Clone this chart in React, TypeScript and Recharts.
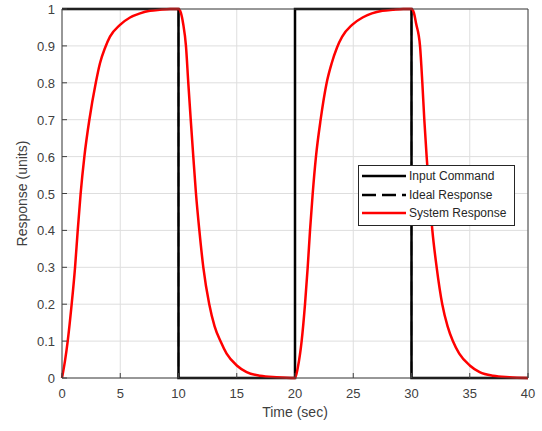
import { CartesianGrid, Label, Legend, Line, LineChart, XAxis, YAxis } from "recharts";

const inputTime = [0, 10, 10, 20, 20, 30, 30, 40];
const inputValue = [1, 1, 0, 0, 1, 1, 0, 0];

const systemTime = [
  0, 0.25, 0.49, 0.83, 1.12, 1.35, 1.6, 1.92, 2.35, 2.9, 3.26, 3.7, 4.12, 4.98, 5.84, 6.7, 7.55, 8.4, 9.3,
  10, 10.2, 10.4, 10.64, 10.84, 11.05, 11.27, 11.5, 11.79, 12.13, 12.64, 13.1, 13.6, 14.13, 15, 15.85, 17, 18.4,
  20, 20.25, 20.57, 20.86, 21.09, 21.29, 21.52, 21.8, 22.2, 22.72, 23.15, 23.6, 24.05, 24.9, 25.8, 26.6, 27.5, 28.4, 29.3,
  30, 30.2, 30.4, 30.73, 30.93, 31.1, 31.3, 31.53, 31.79, 32.16, 32.64, 33.1, 33.55, 34.1, 35, 35.85, 37, 38.4,
  40,
];
const systemValue = [
  0, 0.045, 0.1, 0.2, 0.3, 0.4, 0.5, 0.6, 0.7, 0.8, 0.853, 0.895, 0.925, 0.957, 0.977, 0.988, 0.995, 0.998, 1,
  1, 0.99, 0.96, 0.9, 0.8, 0.7, 0.6, 0.5, 0.4, 0.3, 0.2, 0.14, 0.1, 0.066, 0.034, 0.016, 0.006, 0.002,
  0, 0.03, 0.1, 0.2, 0.3, 0.4, 0.5, 0.6, 0.7, 0.8, 0.853, 0.895, 0.925, 0.957, 0.977, 0.988, 0.995, 0.998, 1,
  1, 0.99, 0.96, 0.9, 0.8, 0.7, 0.6, 0.5, 0.4, 0.3, 0.2, 0.14, 0.1, 0.066, 0.034, 0.016, 0.006, 0.002,
  0,
];

const xTicks = [0, 5, 10, 15, 20, 25, 30, 35, 40];
const yTicks = [0, 0.1, 0.2, 0.3, 0.4, 0.5, 0.6, 0.7, 0.8, 0.9, 1];

const seriesNames = ["Input Command", "Ideal Response", "System Response"];

const inputData = inputTime.map((t, i) => ({ t, v: inputValue[i] }));
const systemData = systemTime.map((t, i) => ({ t, v: systemValue[i] }));

const INK = "#404040";
const FONT = "'Liberation Sans', Arial, sans-serif";

function BottomTick({ x, y, payload }: any) {
  return (
    <g>
      <line x1={x} x2={x} y1={y} y2={y - 5} stroke={INK} />
      <text x={x} y={y + 20} textAnchor="middle" fontSize={13} fill={INK} fontFamily={FONT}>
        {payload.value}
      </text>
    </g>
  );
}

function LeftTick({ x, y, payload }: any) {
  return (
    <g>
      <line x1={x} x2={x + 5} y1={y} y2={y} stroke={INK} />
      <text x={x - 7} y={y + 5} textAnchor="end" fontSize={13} fill={INK} fontFamily={FONT}>
        {payload.value}
      </text>
    </g>
  );
}

function TopTick({ x, y }: any) {
  return <line x1={x} x2={x} y1={y} y2={y + 5} stroke={INK} />;
}

function RightTick({ x, y }: any) {
  return <line x1={x} x2={x - 5} y1={y} y2={y} stroke={INK} />;
}

function YTitle({ viewBox }: any) {
  const cx = viewBox.x + viewBox.width - 40;
  const cy = viewBox.y + viewBox.height / 2;
  return (
    <text
      x={cx}
      y={cy}
      transform={`rotate(-90 ${cx} ${cy})`}
      textAnchor="middle"
      dominantBaseline="central"
      fontSize={14}
      fill={INK}
      fontFamily={FONT}
    >
      Response (units)
    </text>
  );
}

function XTitle({ viewBox }: any) {
  const cx = viewBox.x + viewBox.width / 2;
  const cy = viewBox.y + 34;
  return (
    <text x={cx} y={cy} textAnchor="middle" dominantBaseline="central" fontSize={14} fill={INK} fontFamily={FONT}>
      Time (sec)
    </text>
  );
}

function LegendBox() {
  const styles = [
    { stroke: "#000", dash: undefined },
    { stroke: "#000", dash: "14 6" },
    { stroke: "#ff0000", dash: undefined },
  ];
  return (
    <div
      style={{
        background: "#fff",
        border: "1px solid #262626",
        width: 155,
        padding: "1px 0 2px 0",
        fontFamily: FONT,
        fontSize: 12,
        color: "#262626",
      }}
    >
      {seriesNames.map((name, i) => (
        <div key={name} style={{ display: "flex", alignItems: "center", height: 18.5 }}>
          <svg width={50} height={10} style={{ flex: "none" }}>
            <line x1={3} x2={47} y1={5} y2={5} stroke={styles[i].stroke} strokeWidth={2.5} strokeDasharray={styles[i].dash} />
          </svg>
          <span>{name}</span>
        </div>
      ))}
    </div>
  );
}

export default function App() {
  return (
    <div style={{ position: "absolute", left: 0, top: 0, width: 542, height: 431, background: "#fff" }}>
      <LineChart width={542} height={431} margin={{ top: 8, right: 13, bottom: 52, left: 61 }}>
        <CartesianGrid stroke="#dedede" />
        <XAxis
          dataKey="t"
          type="number"
          domain={[0, 40]}
          ticks={xTicks}
          height={1}
          tickSize={0}
          tickMargin={0}
          tickLine={false}
          tick={<BottomTick />}
          axisLine={{ stroke: INK }}
          interval={0}
        >
          <Label content={<XTitle />} />
        </XAxis>
        <XAxis
          xAxisId="top"
          orientation="top"
          dataKey="t"
          type="number"
          domain={[0, 40]}
          ticks={xTicks}
          height={1}
          tickSize={0}
          tickMargin={0}
          tickLine={false}
          tick={<TopTick />}
          axisLine={{ stroke: INK }}
          interval={0}
        />
        <YAxis
          type="number"
          domain={[0, 1]}
          ticks={yTicks}
          width={1}
          tickSize={0}
          tickMargin={0}
          tickLine={false}
          tick={<LeftTick />}
          axisLine={{ stroke: INK }}
          interval={0}
        >
          <Label content={<YTitle />} />
        </YAxis>
        <YAxis
          yAxisId="right"
          orientation="right"
          type="number"
          domain={[0, 1]}
          ticks={yTicks}
          width={1}
          tickSize={0}
          tickMargin={0}
          tickLine={false}
          tick={<RightTick />}
          axisLine={{ stroke: INK }}
          interval={0}
        />
        <Legend
          layout="horizontal"
          verticalAlign="middle"
          align="center"
          content={<LegendBox />}
          wrapperStyle={{ position: "absolute", left: 358, top: 165, width: 157 }}
        />
        {/* ideal response equals the command, so the solid line hides it */}
        <Line
          data={inputData}
          dataKey="v"
          name={seriesNames[1]}
          type="linear"
          stroke="#000"
          strokeWidth={1.5}
          strokeDasharray="14 6"
          dot={false}
          isAnimationActive={false}
        />
        <Line
          data={inputData}
          dataKey="v"
          name={seriesNames[0]}
          type="linear"
          stroke="#000"
          strokeWidth={2.5}
          dot={false}
          isAnimationActive={false}
        />
        <Line
          data={systemData}
          dataKey="v"
          name={seriesNames[2]}
          type="monotone"
          stroke="#ff0000"
          strokeWidth={2.5}
          dot={false}
          isAnimationActive={false}
        />
      </LineChart>
    </div>
  );
}
